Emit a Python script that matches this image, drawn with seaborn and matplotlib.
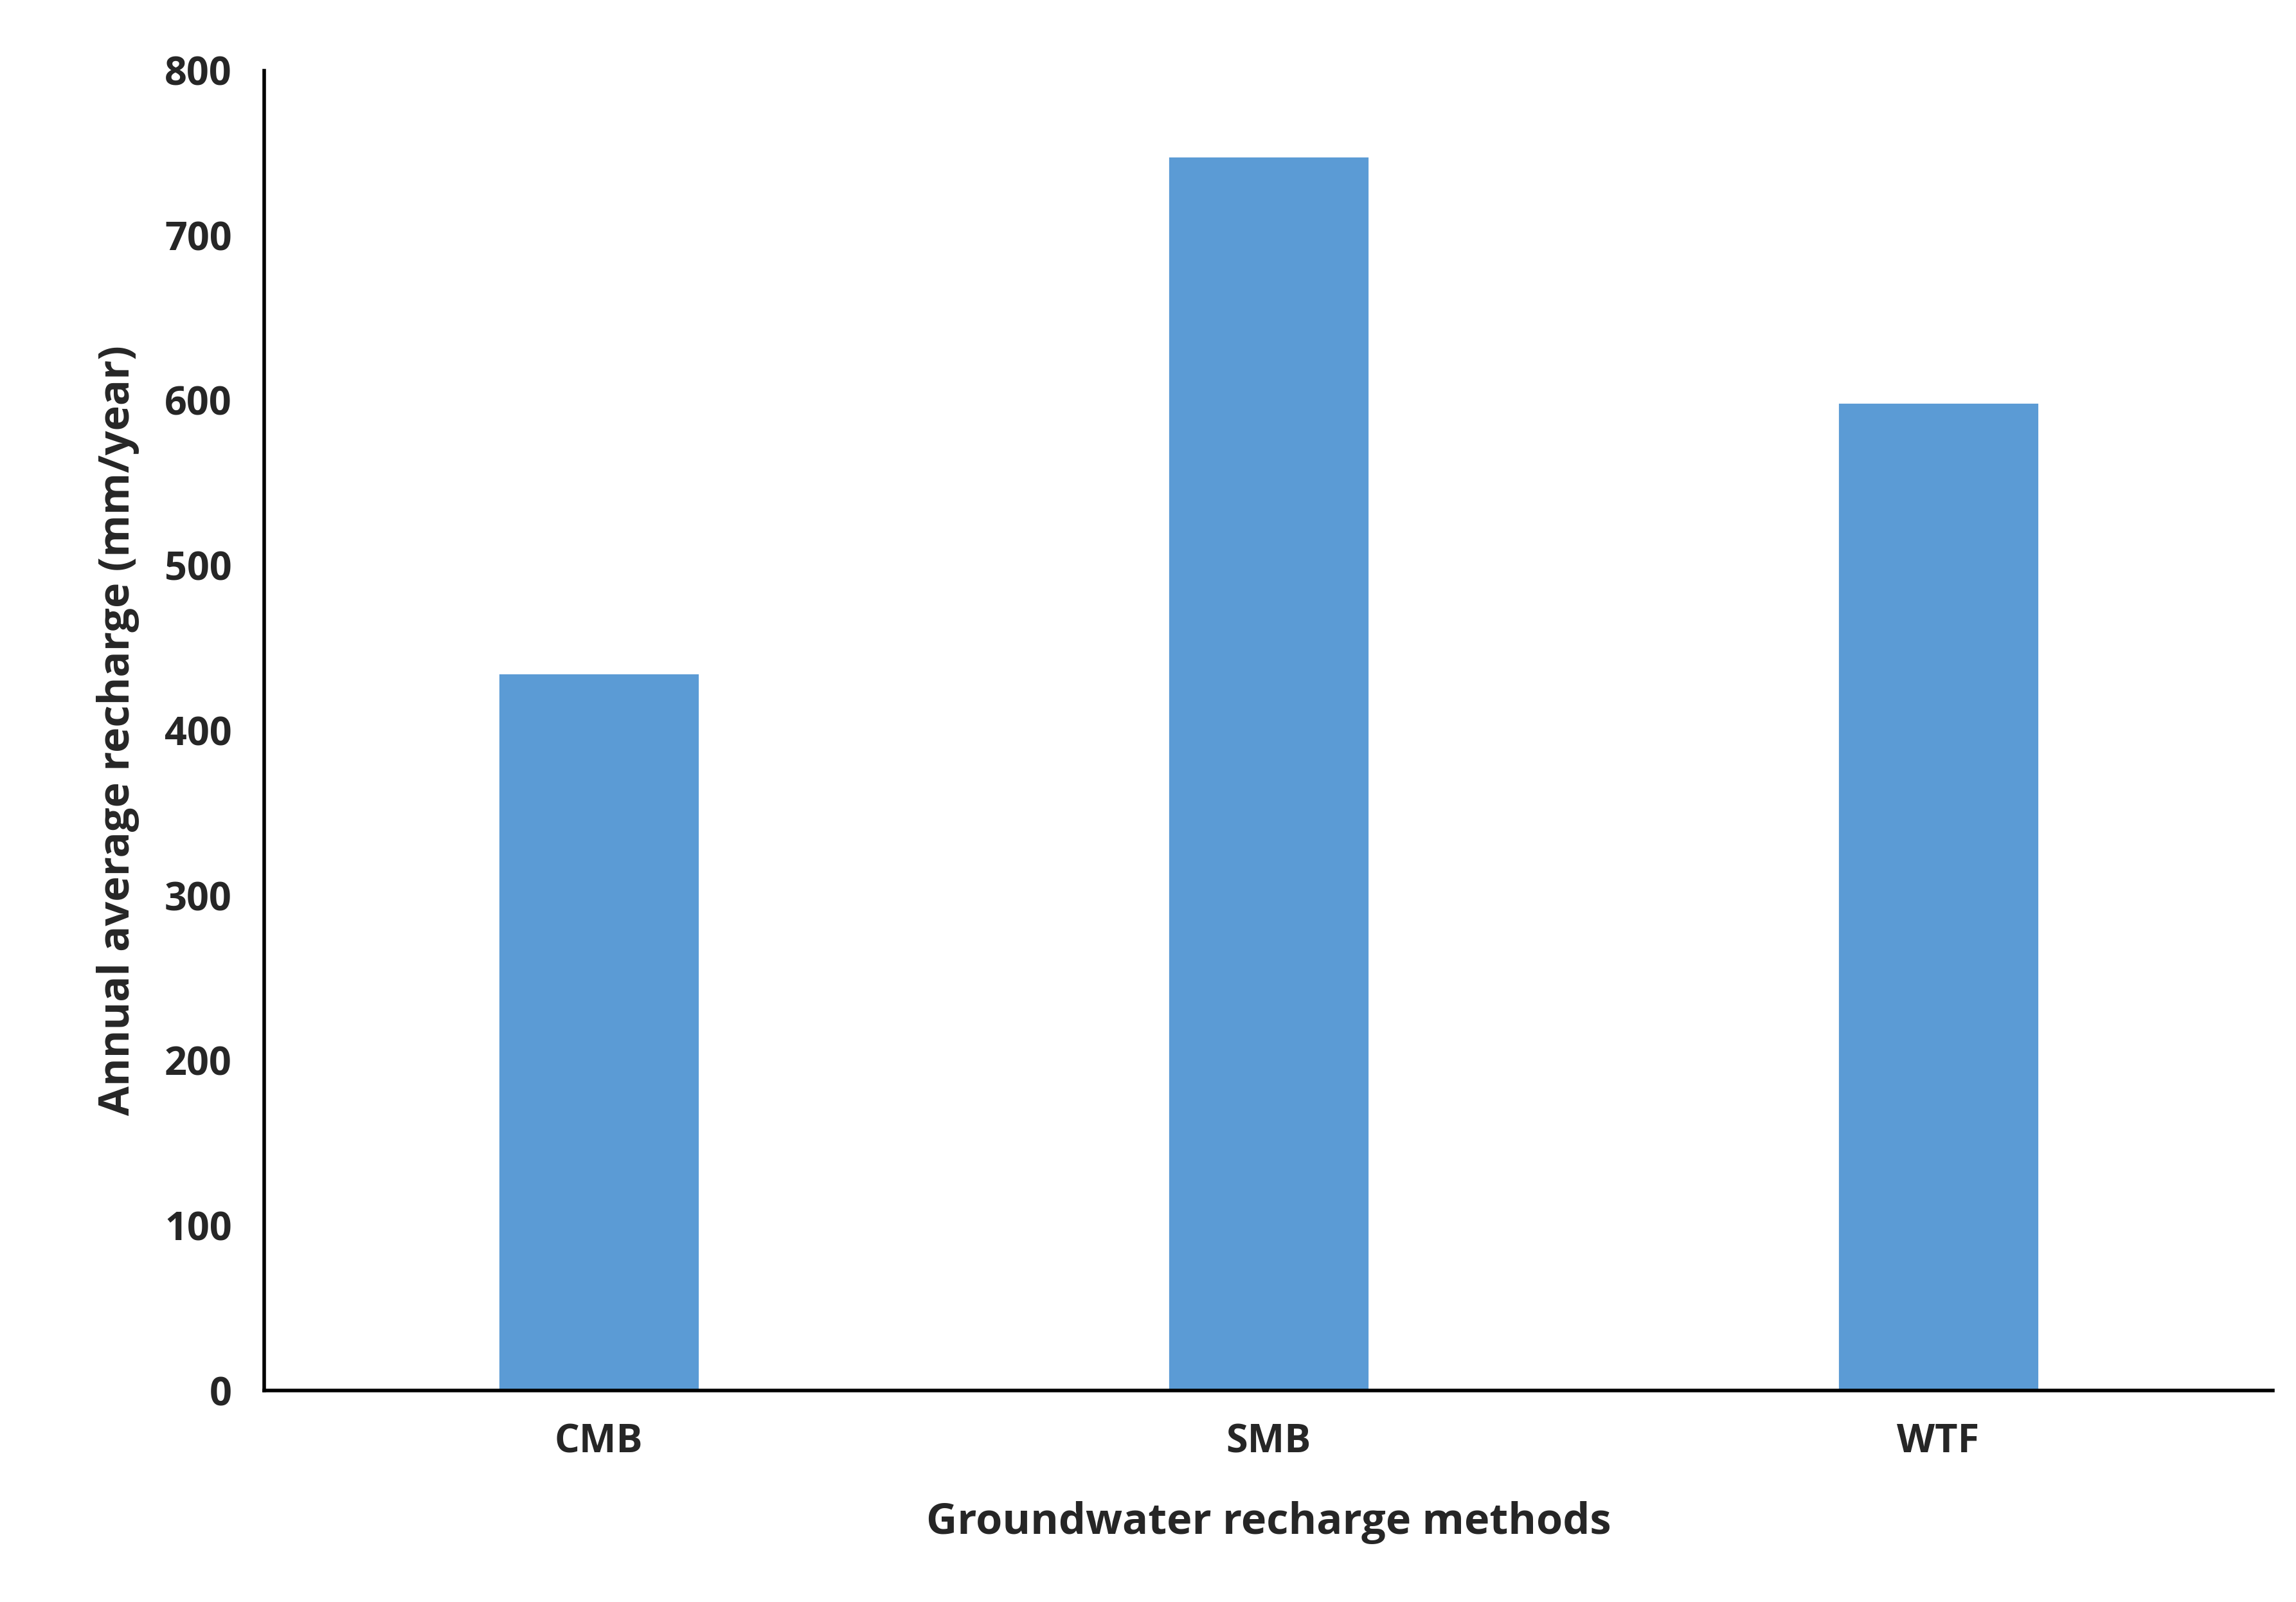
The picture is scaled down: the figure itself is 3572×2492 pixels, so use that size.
import matplotlib
matplotlib.use("Agg")
import pandas as pd
import seaborn as sns
import matplotlib.pyplot as plt

methods = ["CMB", "SMB", "WTF"]
recharge = [435, 748, 599]

Data = pd.DataFrame({"method": methods, "recharge": recharge})

sns.set_style("white")
plt.rcParams['font.family'] = ['Open Sans', 'DejaVu Sans']

fig = plt.figure(figsize=(17.86, 12.46), dpi=200)
ax = fig.add_axes([0.115, 0.132, 0.875, 0.824])
sns.barplot(data=Data, x="method", y="recharge", color="#5B9BD5", saturation=1, width=0.3, ax=ax)
ax.set_ylim(0, 800)
ax.set_yticks(range(0, 801, 100))
ax.set_xlim(-0.5, 2.5)
for s in ["top", "right"]:
    ax.spines[s].set_visible(False)
for s in ["left", "bottom"]:
    ax.spines[s].set_color("black")
    ax.spines[s].set_linewidth(2)
ax.tick_params(axis="both", labelsize=22, length=0, pad=18)
for t in ax.get_xticklabels() + ax.get_yticklabels():
    t.set_fontweight("bold")
ax.set_xlabel("Groundwater recharge methods", fontsize=24, fontweight="bold", labelpad=22)
ax.set_ylabel("Annual average recharge (mm/year)", fontsize=24, fontweight="bold", labelpad=14)

fig.savefig("out.png", dpi=200)
